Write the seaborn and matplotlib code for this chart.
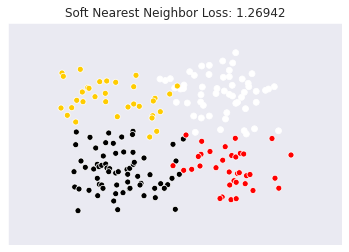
import matplotlib
matplotlib.use("Agg")
import matplotlib.pyplot as plt
import seaborn as sns
import pandas as pd

# Point coordinates (x to the right, y downward)
yellow_x = [62, 63.3, 80.3, 99.7, 106.7, 115.7, 136, 82.3, 87.7, 89, 105.3, 95, 76.7, 83, 105.7,
            61, 71.7, 67.3, 75.7, 117.3, 128, 133.7, 139.3, 133.7, 177.3, 169.7, 155, 153.3,
            160.3, 152.7, 152, 156.7, 149.7]
yellow_y = [73, 76.3, 69.3, 81.7, 81, 82.3, 75.3, 92, 87.7, 88.3, 93.3, 96.7, 100.3, 101.7, 101.7,
            108, 107.7, 115.3, 122, 116.7, 107, 104, 106.3, 86.7, 86, 94, 98.3, 101,
            111.7, 115.7, 118, 131.3, 137]

white_x = [235.7, 201.7, 209.3, 222.7, 232.7, 189.7, 194.3, 209, 229.3, 223.3, 229.3, 252, 242.2,
           160, 165.3, 170.3, 184, 180.5, 183.5, 174.7, 202.3, 217, 216, 224.3, 232.2, 232.5,
           229.2, 248.2, 248.8, 244.3, 256.2, 265.5, 268.5, 274.3, 201, 176.3, 187.3, 200.7,
           203.3, 237.5, 235.8, 241.5, 256.2, 245.5, 226.8, 225.5, 193.7, 201.3, 209.3, 220.5,
           244.2, 246.3, 254.5, 278.5, 195.3]
white_y = [52.7, 66, 65.3, 61, 63, 71.7, 75.3, 74.5, 70.3, 77.3, 76.7, 73.7, 79,
           79, 80.5, 78.7, 85, 89, 88.5, 88, 87, 88.5, 93.5, 91, 85.3, 96,
           94.3, 83.3, 86.7, 92.3, 91.3, 90.3, 89, 86.7, 94.7, 102.3, 103, 102,
           105.3, 102.3, 103.3, 97.3, 102.3, 108.7, 112.7, 119, 116, 118, 116, 129.7,
           130.7, 134, 128.8, 130.8, 132.3]

black_x = [76.3, 90, 108.7, 121.7, 133, 132.5, 75.7, 95.7, 105.7, 113.3, 103.3, 115.7, 123.7, 133,
           81, 85.3, 74, 93.7, 97.3, 99, 101.7, 105.7, 107, 109.7, 108.7, 115.7, 118.3, 127,
           127.7, 129.7, 133.3, 134.3, 97.3, 99.3, 101.7, 103, 74.7, 79, 89, 97.7, 116.7,
           115.7, 123, 127.7, 129.3, 113.7, 78, 117.7, 173, 183.3, 144, 176, 150, 137.7, 172,
           179.3, 141, 140, 160.7, 167.7, 130, 154.7, 164.3, 144, 155.3, 175.3]
black_y = [132, 137.3, 133, 137, 131.3, 134.5, 144.7, 148, 142.7, 143.3, 156, 153.3, 152, 152.3,
           161, 167.3, 171.7, 169, 164.3, 166.7, 165.3, 164, 168, 168.7, 171.7, 173, 171.7, 169.5,
           174.3, 168.3, 164.3, 162.3, 178.3, 184.3, 185, 188.3, 187, 189, 190.3, 195.7, 185,
           193.7, 192.7, 182, 188.7, 201, 210.7, 209.7, 144.3, 139, 158, 161, 174.7, 176.3, 178.3,
           174.3, 183.3, 185, 183.7, 184.7, 188.3, 188.3, 188.3, 195.7, 197.7, 209.3]

red_x = [186, 201.7, 225.2, 235.3, 272, 291, 210, 201, 198.3, 231.7, 235.8, 240.3, 243.7, 222.7,
         173, 183.7, 191.7, 200, 216, 229.2, 237.5, 239.3, 246.5, 250, 275, 234, 236.2, 229.7,
         245.2, 278.8, 253, 222.2, 220, 231, 236.2]
red_y = [135, 141.3, 146.7, 138.3, 138.5, 155, 151.5, 154.3, 156.5, 155.5, 157, 153.3, 154, 160.2,
         165.7, 170.3, 169.3, 166, 167.7, 172, 173.5, 172.7, 175.7, 174.5, 178.2, 180.7, 182.3, 185,
         183.7, 188.2, 190.5, 197, 198.5, 199.7, 198.7]

classes = ["white", "black", "red", "yellow"]
palette = {"white": "#ffffff", "black": "#000000", "red": "#ff0000", "yellow": "#ffcc00"}

frames = []
for name, xs, ys in [("white", white_x, white_y), ("black", black_x, black_y),
                     ("red", red_x, red_y), ("yellow", yellow_x, yellow_y)]:
    frames.append(pd.DataFrame({"x": xs, "y": ys, "cls": name}))
df = pd.concat(frames, ignore_index=True)

sns.set_style("darkgrid")
W, H, DPI = 349, 252, 72
fig = plt.figure(figsize=(W / DPI, H / DPI), dpi=DPI)
ax = fig.add_axes([8 / W, (H - 245) / H, (342 - 8) / W, (245 - 23) / H])

sns.scatterplot(data=df, x="x", y="y", hue="cls", palette=palette, hue_order=classes,
                s=36, edgecolor="white", linewidth=0.75, legend=False, ax=ax)

ax.set_xlim(8, 342)
ax.set_ylim(245, 23)
ax.set_xticks([])
ax.set_yticks([])
ax.set_xlabel("")
ax.set_ylabel("")
ax.set_title("Soft Nearest Neighbor Loss: 1.26942", fontsize=12, color="#262626")

fig.savefig("out.png", dpi=DPI)
